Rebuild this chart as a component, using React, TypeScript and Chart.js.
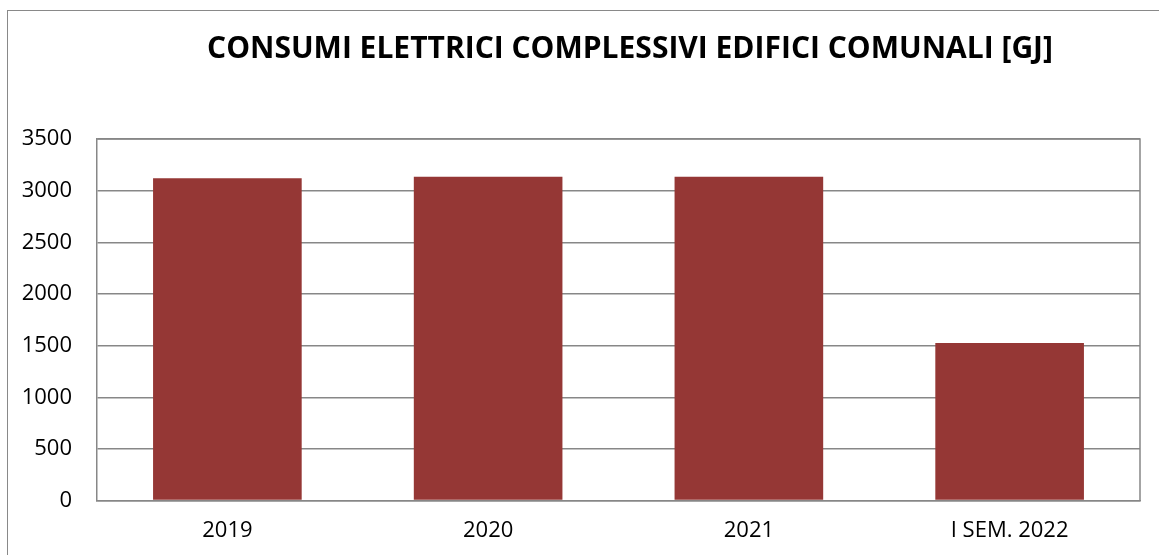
import React, { useEffect, useRef } from "react";
import { Chart, registerables } from "chart.js";

Chart.register(...registerables);

const TITLE = "CONSUMI ELETTRICI COMPLESSIVI EDIFICI COMUNALI [GJ]";
const categories = ["2019", "2020", "2021", "I SEM. 2022"];
const consumiGJ = [3120, 3135, 3135, 1525];
const yMin = 0;
const yMax = 3500;
const yStep = 500;

const GRID = "#878787";
const BAR = "#953735";

const titlePlugin = {
  id: "fixedTitle",
  afterDraw(chart: any) {
    const ctx = chart.ctx;
    ctx.save();
    ctx.font = "bold 30px 'Open Sans'";
    ctx.fillStyle = "#000";
    ctx.textAlign = "center";
    ctx.textBaseline = "alphabetic";
    ctx.fillText(TITLE, 630, 58);
    ctx.restore();
  },
};

const framePlugin = {
  id: "plotFrame",
  afterDatasetsDraw(chart: any) {
    const { ctx, chartArea } = chart;
    ctx.save();
    ctx.strokeStyle = GRID;
    ctx.lineWidth = 1.5;
    ctx.beginPath();
    ctx.moveTo(chartArea.left, chartArea.top);
    ctx.lineTo(chartArea.right, chartArea.top);
    ctx.lineTo(chartArea.right, chartArea.bottom);
    ctx.stroke();
    ctx.restore();
  },
};

export default function App() {
  const ref = useRef<HTMLCanvasElement>(null);
  useEffect(() => {
    if (!ref.current) return;
    const chart = new Chart(ref.current, {
      type: "bar",
      data: {
        labels: categories,
        datasets: [
          {
            data: consumiGJ,
            backgroundColor: BAR,
            borderWidth: 0,
            categoryPercentage: 1,
            barPercentage: 0.57,
          },
        ],
      },
      options: {
        animation: false,
        responsive: true,
        maintainAspectRatio: false,
        layout: { padding: { top: 139, right: 19, left: 0, bottom: 0 } },
        plugins: { legend: { display: false }, title: { display: false }, tooltip: { enabled: false } },
        scales: {
          x: {
            grid: { display: false, drawTicks: false },
            border: { display: true, color: GRID, width: 1.5 },
            ticks: { color: "#000", font: { family: "'Open Sans'", size: 22 }, padding: 17, maxRotation: 0 },
            afterFit(scale: any) {
              scale.height = 54.4;
            },
          },
          y: {
            min: yMin,
            max: yMax,
            grid: { color: GRID, lineWidth: 1.5, drawTicks: false },
            border: { display: true, color: GRID, width: 1.5 },
            ticks: {
              stepSize: yStep,
              color: "#000",
              font: { family: "'Open Sans'", size: 22 },
              padding: 25,
              callback: (v: any) => String(v),
            },
            afterFit(scale: any) {
              scale.width = 97;
            },
          },
        },
      },
      plugins: [titlePlugin, framePlugin],
    });
    return () => chart.destroy();
  }, []);

  return (
    <div style={{ position: "absolute", left: 0, top: 0, width: 1159, height: 555, overflow: "hidden", background: "#fff" }}>
      <div
        style={{
          position: "absolute",
          left: 7,
          top: 10,
          width: 2000,
          height: 2000,
          border: "1px solid #898989",
        }}
      />
      <div style={{ position: "absolute", left: 0, top: 0, width: 1159, height: 555 }}>
        <canvas ref={ref} />
      </div>
    </div>
  );
}
